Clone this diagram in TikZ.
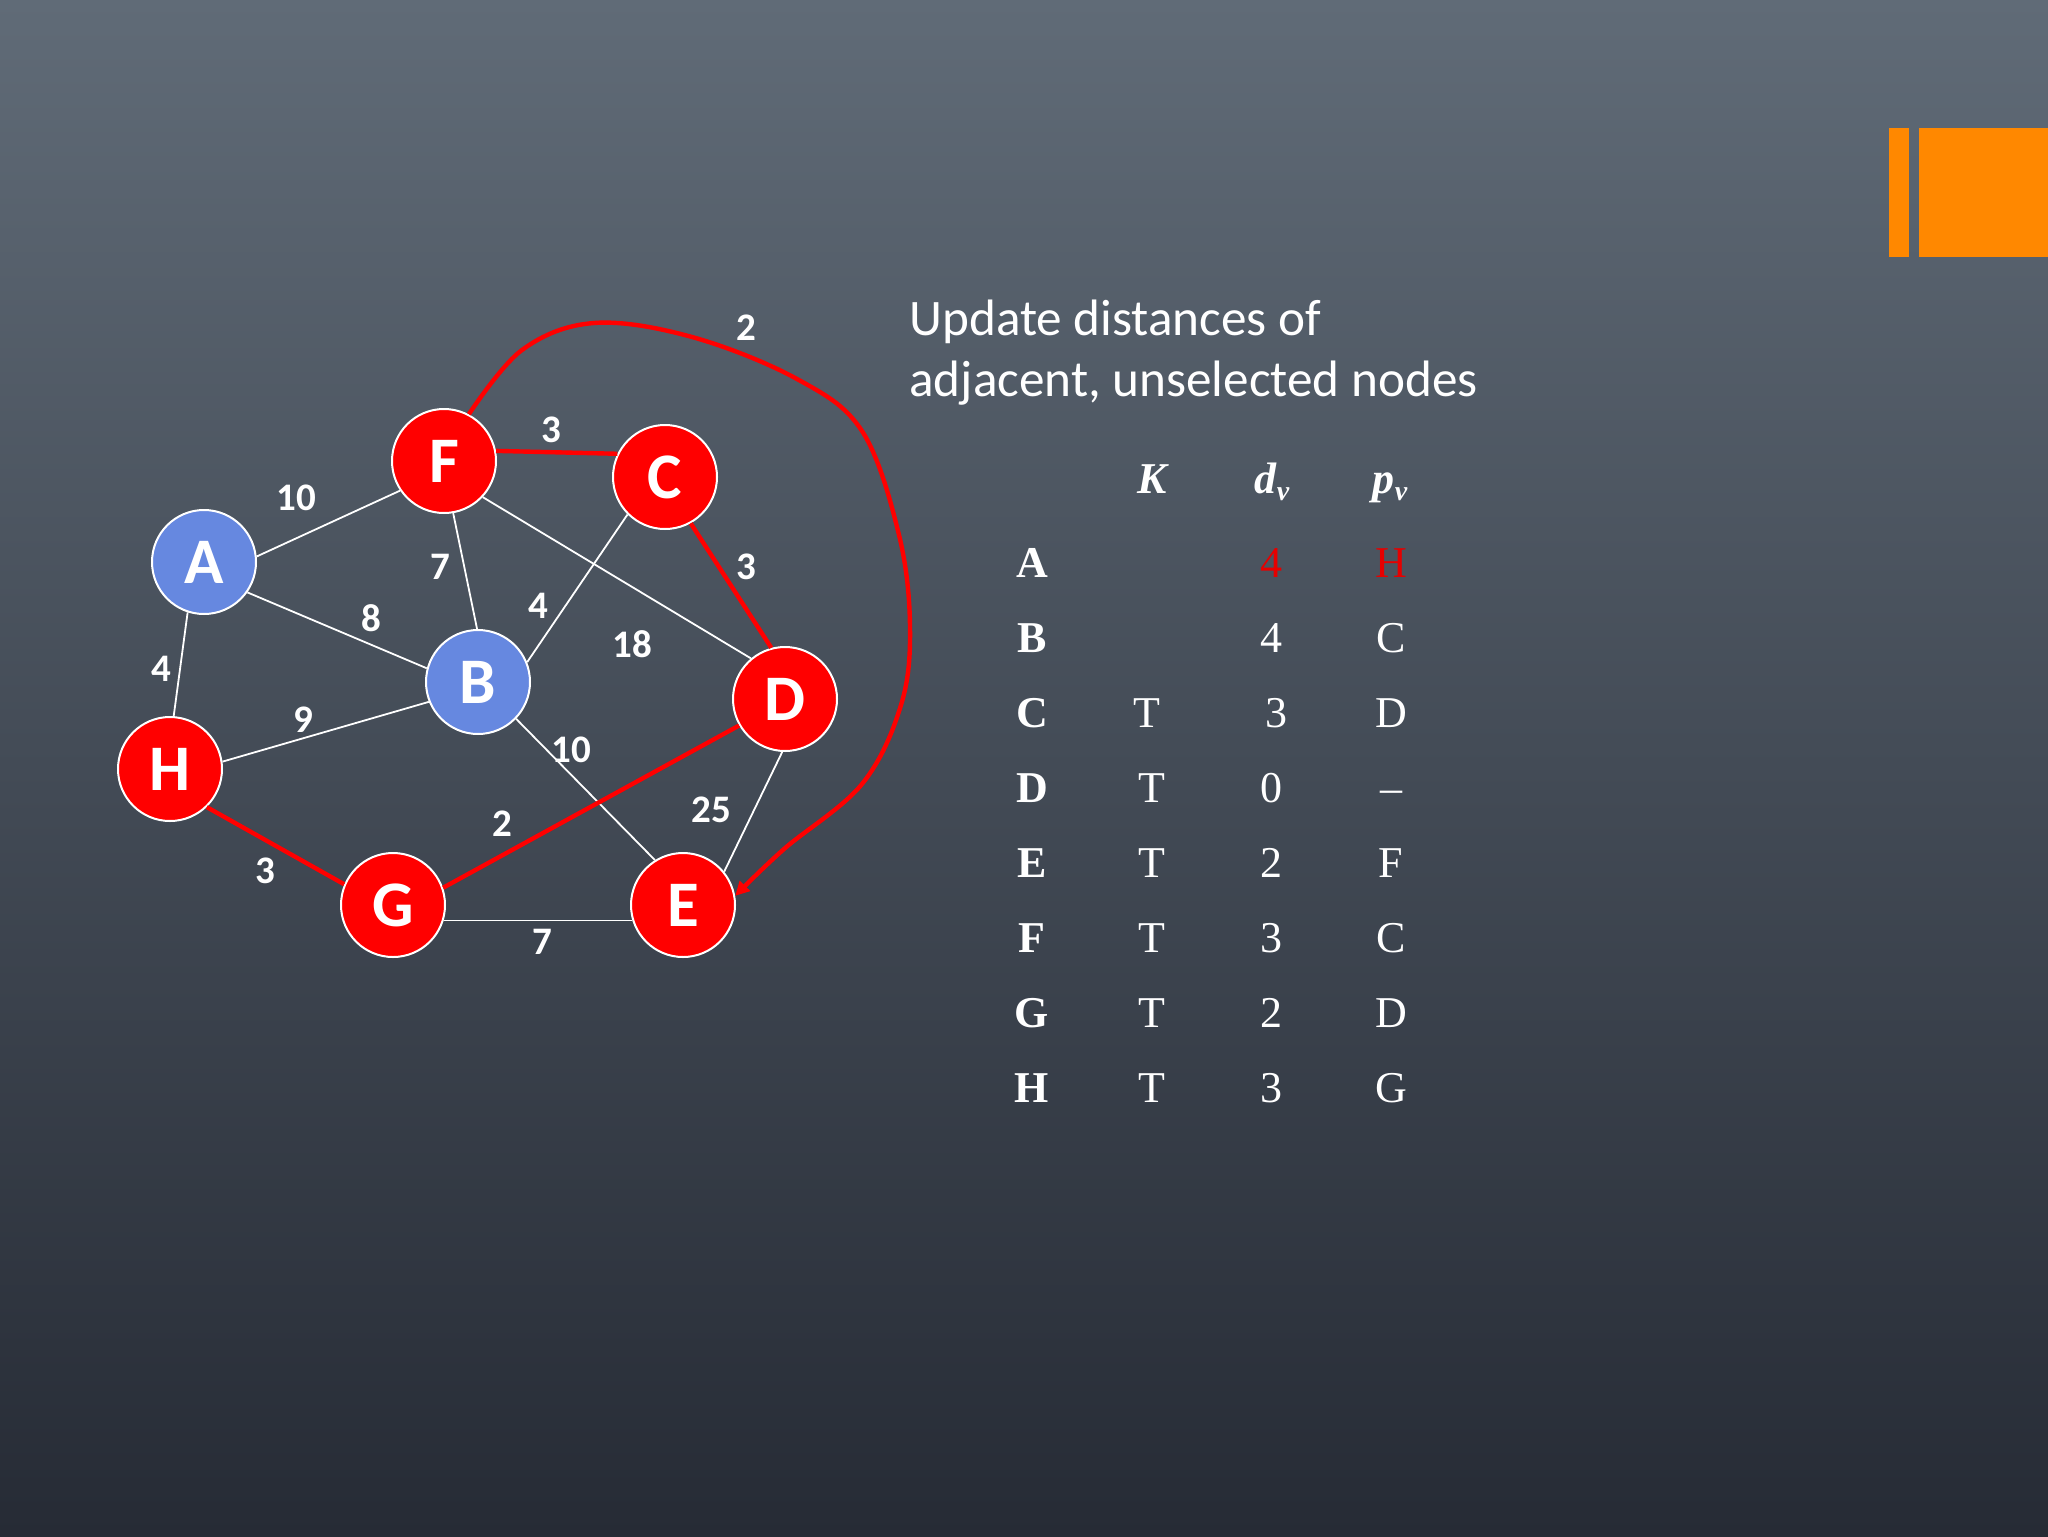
\documentclass[tikz,border=0pt]{standalone}
\usepackage{fontspec}
\setmainfont{Liberation Serif}
\newfontfamily\carl{Carlito}
\usetikzlibrary{arrows.meta}
\definecolor{bgtop}{RGB}{96,107,119}
\definecolor{bgbot}{RGB}{38,43,53}
\definecolor{nodered}{RGB}{255,0,0}
\definecolor{nodeblue}{RGB}{102,136,224}
\definecolor{tabred}{RGB}{230,0,0}
\definecolor{orangebar}{RGB}{255,136,0}
\tikzset{
  vtx/.style={circle, draw=white, line width=1pt, minimum size=52pt, inner sep=0pt,
    text=white, font=\carl\bfseries\fontsize{32.5}{32.5}\selectfont},
  rv/.style={vtx, fill=nodered},
  bv/.style={vtx, fill=nodeblue},
  wedge/.style={draw=white, line width=0.9pt},
  redge/.style={draw=nodered, line width=2.2pt},
  elab/.style={text=white, font=\carl\bfseries\fontsize{19.5}{19.5}\selectfont, inner sep=0pt},
  head/.style={text=white, font=\carl\fontsize{25.6}{25.6}\selectfont, anchor=base west, inner sep=0pt},
  rowlab/.style={text=white, font=\bfseries\fontsize{22}{22}\selectfont, anchor=base, inner sep=0pt},
  cell/.style={text=white, font=\fontsize{22}{22}\selectfont, anchor=base, inner sep=0pt},
  redcell/.style={cell, text=tabred},
}
\begin{document}
\begin{tikzpicture}[x=0.5pt,y=-0.5pt]
\useasboundingbox (0,0) rectangle (2048,1536);
\shade[top color=bgtop, bottom color=bgbot] (0,0) rectangle (2048,1536);
% orange bars
\fill[orangebar] (1889,128) rectangle (1909,257);
\fill[orangebar] (1919,128) rectangle (2048,257);

% vertices
\node[rv] (F) at (444,461) {F};
\node[rv] (C) at (665,477) {C};
\node[bv] (A) at (204,562) {A};
\node[bv] (B) at (478,682) {B};
\node[rv] (D) at (785,699) {D};
\node[rv] (H) at (170,769) {H};
\node[rv] (G) at (393,905) {G};
\node[rv] (E) at (683,905) {E};

% edges
\draw[wedge] (A.6) -- (F.214);
\draw[wedge] (A.325) -- (B.165);
\draw[wedge] (A.252) -- (H.86);
\draw[wedge] (F.280) -- (B.91);
\draw[wedge] (F.317) -- (D.130);
\draw[wedge] (C.225) -- (B.22);
\draw[wedge] (H.8) -- (B.202);
\draw[wedge] (B.316) -- (E.122);
\draw[wedge] (D.267) -- (E.39);
\draw[wedge] (G.343) -- (E.197);
\draw[redge] (F.11) -- (C.154);
\draw[redge] (C.299) -- (D.105);
\draw[redge] (H.314) -- (G.157);
\draw[redge] (G.19) -- (D.210);
\draw[redge, -{Triangle[length=7pt,width=7pt]}] plot[smooth, tension=0.6] coordinates
  {(F.62) (522,350) (594,323) (692,337) (797,379) (862,431) (899,535) (910,627) (901,705) (862,784) (784,849) (E.10)};

% edge labels
\node[elab] (lAF) at (296,498) {10};
\node[elab] (lFC) at (551,430) {3};
\node[elab] (lFB) at (440,567) {7};
\node[elab] (lAB) at (371,618) {8};
\node[elab] (lCB) at (538,606) {4};
\node[elab] (lFD) at (632,644) {18};
\node[elab] (lCD) at (746,567) {3};
\node[elab] (lAH) at (161,669) {4};
\node[elab] (lHB) at (303,720) {9};
\node[elab] (lBE) at (571,750) {10};
\node[elab] (lGD) at (502,824) {2};
\node[elab] (lDE) at (711,810) {25};
\node[elab] (lHG) at (265,871) {3};
\node[elab] (lGE) at (542,942) {7};
\node[elab] (lFE) at (746,328) {2};

% heading
\node[head] (h1) at (909,335) {Update distances of};
\node[head] (h2) at (909,396) {adjacent, unselected nodes};

% table header
\node[cell] (hK) at (1152,493) {\bfseries\itshape K};
\node[cell] (hd) at (1272,493) {\bfseries\itshape d\raisebox{-0.35ex}{\fontsize{14}{14}\selectfont v}};
\node[cell] (hp) at (1390,493) {\bfseries\itshape p\raisebox{-0.35ex}{\fontsize{14}{14}\selectfont v}};

% rows
\node[rowlab] (rA) at (1032,577) {A};
\node[redcell] (dA) at (1271,577) {4};
\node[redcell] (pA) at (1391,577) {H};

\node[rowlab] (rB) at (1032,652) {B};
\node[cell] (dB) at (1271,652) {4};
\node[cell] (pB) at (1391,652) {C};

\node[rowlab] (rC) at (1032,727) {C};
\node[cell] (kC) at (1147,727) {T};
\node[cell] (dC) at (1276,727) {3};
\node[cell] (pC) at (1391,727) {D};

\node[rowlab] (rD) at (1032,802) {D};
\node[cell] (kD) at (1152,802) {T};
\node[cell] (dD) at (1271,802) {0};
\node[cell] (pD) at (1391,802) {\textendash};

\node[rowlab] (rE) at (1032,877) {E};
\node[cell] (kE) at (1152,877) {T};
\node[cell] (dE) at (1271,877) {2};
\node[cell] (pE) at (1391,877) {F};

\node[rowlab] (rF) at (1032,952) {F};
\node[cell] (kF) at (1152,952) {T};
\node[cell] (dF) at (1271,952) {3};
\node[cell] (pF) at (1391,952) {C};

\node[rowlab] (rG) at (1032,1027) {G};
\node[cell] (kG) at (1152,1027) {T};
\node[cell] (dG) at (1271,1027) {2};
\node[cell] (pG) at (1391,1027) {D};

\node[rowlab] (rH) at (1032,1102) {H};
\node[cell] (kH) at (1152,1102) {T};
\node[cell] (dH) at (1271,1102) {3};
\node[cell] (pH) at (1391,1102) {G};
\end{tikzpicture}
\end{document}
